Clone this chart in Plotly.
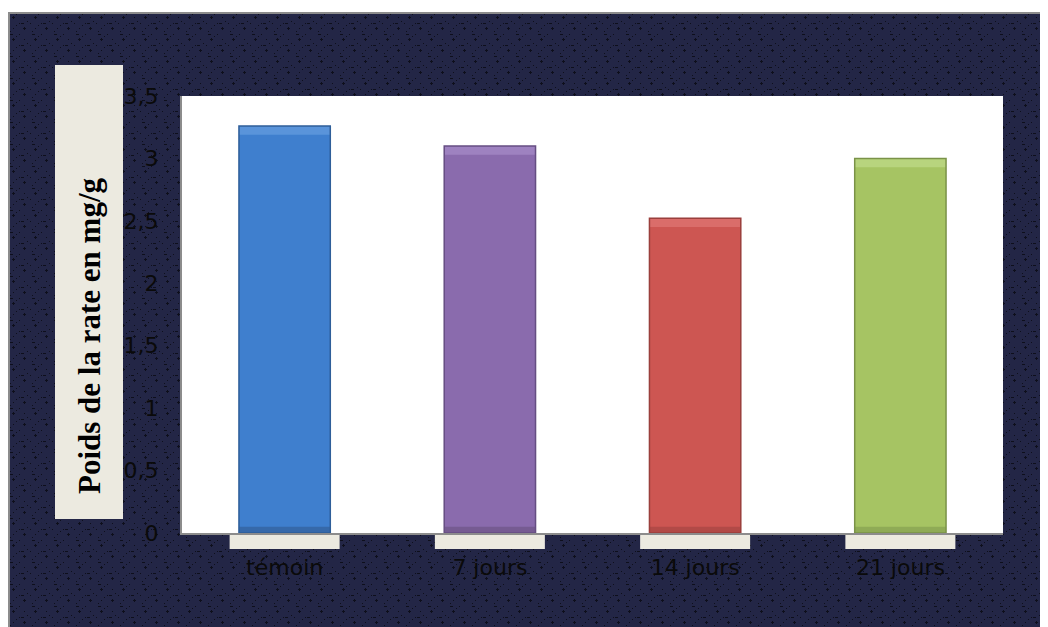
import base64, struct, zlib
import numpy as np
import plotly.graph_objects as go

# ---------------- data ----------------
categories = ["témoin", "7 jours", "14 jours", "21 jours"]
values = [3.26, 3.10, 2.52, 3.00]
bar_colors = ["#3F7FCE", "#8A6BAD", "#CD5652", "#A6C463"]
bar_light = ["#5A94DA", "#9E82C0", "#DA6D6A", "#B8D47E"]
bar_dark = ["#3669AA", "#765B92", "#B24A47", "#8FAB56"]
bar_edges = ["#2E5E99", "#654E82", "#9A3F3C", "#7A9248"]
y_title = "Poids de la rate en mg/g"

OFF = 8  # page body margin
SW, SH = 1048, 627          # screen size
W, H = SW - OFF, SH - OFF   # figure size
# plot area in screen pixels: x 182..1003, y 96..533
L, R, T, B = 182 - OFF, W - (1003 - OFF), 96 - OFF, H - (533 - OFF)
PW, PH = W - L - R, H - T - B

def px(x):  # screen pixel x -> paper fraction (paper = plot area)
    return (x - OFF - L) / PW

def py(y):  # screen pixel y -> paper fraction
    return (H - B - (y - OFF)) / PH

# ---------------- background pattern image ----------------
def make_png(arr):
    h, w, _ = arr.shape
    raw = b"".join(b"\x00" + arr[r].tobytes() for r in range(h))
    def chunk(tag, data):
        c = struct.pack(">I", len(data)) + tag + data
        return c + struct.pack(">I", zlib.crc32(tag + data) & 0xFFFFFFFF)
    return (b"\x89PNG\r\n\x1a\n" + chunk(b"IHDR", struct.pack(">IIBBBBB", w, h, 8, 2, 0, 0, 0))
            + chunk(b"IDAT", zlib.compress(raw, 9)) + chunk(b"IEND", b""))

bw, bh = W, H - 4
img = np.empty((bh, bw, 3), dtype=np.uint8)
img[:, :] = (35, 38, 70)
tile = np.zeros((22, 22), dtype=bool)
for (cy, cx) in [(5, 5), (16, 16)]:
    tile[cy, cx - 1:cx + 2] = True
    tile[cy - 1:cy + 2, cx] = True
for (cy, cx) in [(5, 16), (16, 5), (0, 11), (11, 0), (11, 11), (2, 8), (9, 19), (19, 2), (13, 8)]:
    tile[cy, cx] = True
tile[0, 2:5] = True
tile[11, 13:16] = True
mask = np.tile(tile, (bh // 22 + 1, bw // 22 + 1))[:bh, :bw]
img[mask] = (14, 15, 28)
src = "data:image/png;base64," + base64.b64encode(make_png(img)).decode()

# ---------------- figure ----------------
BAR_W = 0.445
TOP_BAND = 0.07
BOT_BAND = 0.05
fig = go.Figure()
fig.add_trace(go.Bar(
    x=categories, y=values,
    marker=dict(color=bar_colors, line=dict(width=0)),
    width=BAR_W, hoverinfo="x+y", name="",
))
# bevel highlight at the top and shade at the bottom of each bar
fig.add_trace(go.Bar(
    x=categories, y=[TOP_BAND] * len(values), base=[v - TOP_BAND for v in values],
    marker=dict(color=bar_light, line=dict(width=0)),
    width=BAR_W, hoverinfo="skip", name="",
))
fig.add_trace(go.Bar(
    x=categories, y=[BOT_BAND] * len(values), base=[0] * len(values),
    marker=dict(color=bar_dark, line=dict(width=0)),
    width=BAR_W, hoverinfo="skip", name="",
))
# outline of each bar
fig.add_trace(go.Bar(
    x=categories, y=values,
    marker=dict(color="rgba(0,0,0,0)", line=dict(color=bar_edges, width=1.5)),
    width=BAR_W, hoverinfo="skip", name="",
))

shapes = []
# white plot area (drawn over the background image, under the bars)
shapes.append(dict(type="rect", xref="paper", yref="paper", x0=0, x1=1, y0=0, y1=1,
                   line=dict(width=0), fillcolor="white", layer="below"))
# outer frame
shapes.append(dict(type="rect", xref="paper", yref="paper",
                   x0=px(9), x1=px(SW + 30), y0=py(SH + 30), y1=py(13),
                   line=dict(color="#8C8C8C", width=2), fillcolor="rgba(0,0,0,0)", layer="above"))
# beige boxes under category labels
n = len(categories)
for i in range(n):
    cx = 182 + (i + 0.5) * PW / n
    shapes.append(dict(type="rect", xref="paper", yref="paper",
                       x0=px(cx - 55), x1=px(cx + 55), y0=py(549), y1=py(535),
                       line=dict(width=0), fillcolor="#ECEAE0", layer="above"))
# y title box
shapes.append(dict(type="rect", xref="paper", yref="paper",
                   x0=px(55), x1=px(123), y0=py(519), y1=py(65),
                   line=dict(width=0), fillcolor="#ECEAE0", layer="above"))

fig.update_layout(
    width=W, height=H,
    margin=dict(l=L, r=R, t=T, b=B, autoexpand=False),
    paper_bgcolor="white",
    plot_bgcolor="white",
    separators=", ",
    showlegend=False,
    barmode="overlay",
    shapes=shapes,
    images=[dict(source=src, xref="paper", yref="paper", x=px(8), y=py(12),
                 sizex=bw / PW, sizey=bh / PH, xanchor="left", yanchor="top",
                 sizing="stretch", layer="below")],
    annotations=[dict(text=f"<b>{y_title}</b>", xref="paper", yref="paper",
                      x=px(89), y=py(336), showarrow=False, textangle=-90,
                      font=dict(family="Liberation Serif", size=31, color="black"),
                      xanchor="center", yanchor="middle")],
    font=dict(family="DejaVu Sans", size=22, color="black"),
)
fig.update_xaxes(showline=True, linecolor="#8C8C8C", linewidth=2, ticks="",
                 ticklabelstandoff=14, showgrid=False,
                 tickfont=dict(family="DejaVu Sans", size=22, color="#0A0A0A"))
fig.update_yaxes(range=[0, 3.5], dtick=0.5, showline=True, linecolor="#8C8C8C", linewidth=2,
                 showgrid=False, zeroline=False, ticks="", ticklabelstandoff=17,
                 tickfont=dict(family="DejaVu Sans", size=22, color="#0A0A0A"))

fig.write_html("out.html")
